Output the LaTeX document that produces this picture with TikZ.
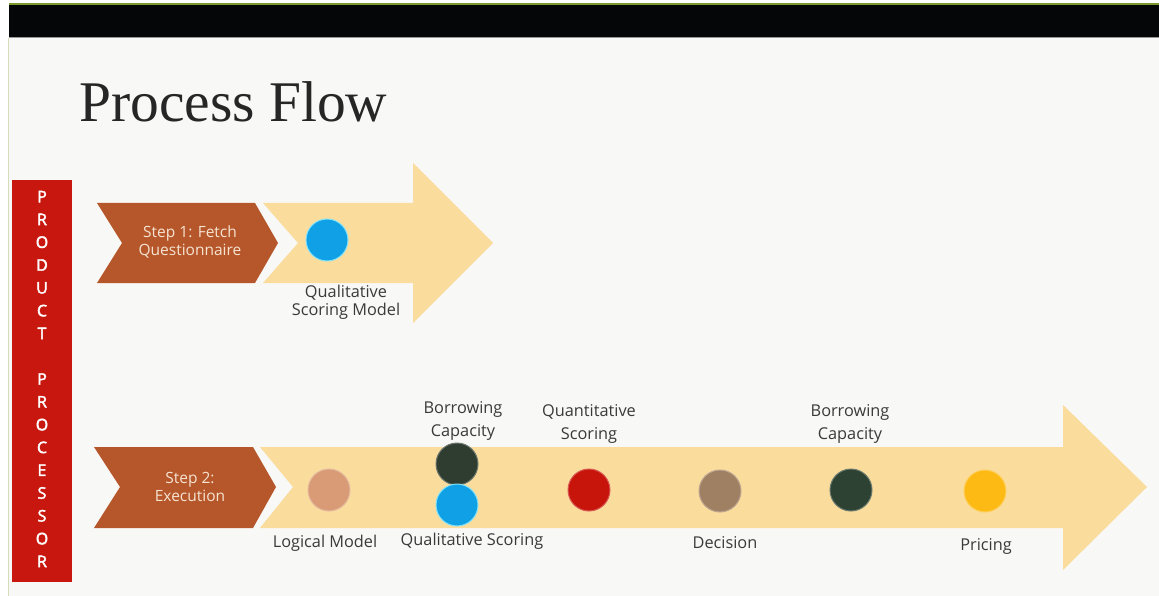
\documentclass[tikz,border=0pt]{standalone}
\usepackage{fontspec}
\setmainfont{Liberation Serif}
\newfontfamily\labelfont{Open Sans}
\newfontfamily\barfont[FakeBold=2.5]{Open Sans}
\definecolor{bgc}{HTML}{F8F8F6}
\definecolor{peach}{HTML}{FADC9C}
\definecolor{brownc}{HTML}{B5572A}
\definecolor{barred}{HTML}{C8170E}
\definecolor{txt}{HTML}{3A3A3A}
\definecolor{cblue}{HTML}{0FA0E6}
\definecolor{csalmon}{HTML}{D89B76}
\definecolor{cdark}{HTML}{2F3D30}
\definecolor{cred}{HTML}{C8150C}
\definecolor{ctan}{HTML}{A08062}
\definecolor{cgreen}{HTML}{2D4232}
\definecolor{cyellow}{HTML}{FDBA14}
\definecolor{steptxt}{HTML}{F6E3D2}
\definecolor{topgreen}{HTML}{7C9A2E}
\definecolor{topblack}{HTML}{050608}
\definecolor{edgegreen}{HTML}{D4DCB8}
\tikzset{
  dot/.style={circle, minimum size=42pt, inner sep=0pt, line width=1pt},
  lbl/.style={font=\labelfont\fontsize{16.3}{23}\selectfont, text=txt, align=center, inner sep=0pt},
  steplbl/.style={font=\labelfont\fontsize{15.5}{18}\selectfont, text=steptxt, align=center, inner sep=0pt},
}
\begin{document}
\begin{tikzpicture}[x=1pt,y=-1pt]
\useasboundingbox (0,0) rectangle (1159,596);
% page
\fill[white] (0,0) rectangle (1159,596);
\fill[bgc] (9,38) rectangle (1159,596);
\draw[edgegreen, line width=0.8pt] (8.5,38) -- (8.5,596);
\fill[topgreen] (9,3) rectangle (1159,5);
\fill[topblack] (9,5) rectangle (1159,37);
\draw[black!40, line width=1pt] (9,37.5) -- (1159,37.5);

% title
\node[anchor=base west, inner sep=0pt, text=black!85, font=\fontsize{57.5}{60}\selectfont] (title) at (79,122) {Process Flow};

% red bar
\fill[barred] (12,180) rectangle (72,582);
\node[font=\barfont\fontsize{16}{22.8}\selectfont, text=white, align=center, inner sep=0pt] (bartext) at (42,379)
  {P\\R\\O\\D\\U\\C\\T\\\mbox{}\\P\\R\\O\\C\\E\\S\\S\\O\\R};

% step 1 arrows
\fill[peach] (263,203) -- (413,203) -- (413,163) -- (493,243) -- (413,323) -- (413,283) -- (263,283) -- (298,243) -- cycle;
\fill[brownc] (97,203) -- (255,203) -- (278,243) -- (255,283) -- (97,283) -- (122,243) -- cycle;
\node[steplbl] (s1) at (190,242) {Step 1: Fetch\\Questionnaire};
\node[dot, fill=cblue, draw=cblue!60!cyan!50!white] (q1) at (327,240) {};
\node[lbl, font=\labelfont\fontsize{16.3}{18}\selectfont] (q1l) at (346,302) {Qualitative\\Scoring Model};

% step 2 arrows
\fill[peach] (260,447) -- (1063,447) -- (1063,405) -- (1147,487) -- (1063,570) -- (1063,528) -- (260,528) -- (293,487) -- cycle;
\fill[brownc] (94,447) -- (253,447) -- (276,487) -- (253,528) -- (94,528) -- (120,487) -- cycle;
\node[steplbl] (s2) at (190,487) {Step 2:\\Execution};

\node[dot, fill=csalmon, draw=csalmon!70!white] (lm) at (329,490) {};
\node[lbl, anchor=base] (lml) at (325,547) {Logical Model};

\node[dot, fill=cdark, draw=cdark!70!white] (bc1) at (457,464) {};
\node[dot, fill=cblue, draw=cblue!60!cyan!50!white] (qs) at (457,505) {};
\node[lbl] (bc1l) at (463,421) {Borrowing\\Capacity};
\node[lbl, anchor=base] (qsl) at (472,545) {Qualitative Scoring};

\node[dot, fill=cred, draw=cred!70!white] (qn) at (589,490) {};
\node[lbl] (qnl) at (589,424) {Quantitative\\Scoring};

\node[dot, fill=ctan, draw=ctan!70!white] (dc) at (720,491) {};
\node[lbl, anchor=base] (dcl) at (725,548) {Decision};

\node[dot, fill=cgreen, draw=cgreen!70!white] (bc2) at (851,490) {};
\node[lbl] (bc2l) at (850,424) {Borrowing\\Capacity};

\node[dot, fill=cyellow, draw=cyellow!70!white] (pr) at (985,491) {};
\node[lbl, anchor=base] (prl) at (986,550) {Pricing};
\end{tikzpicture}
\end{document}
